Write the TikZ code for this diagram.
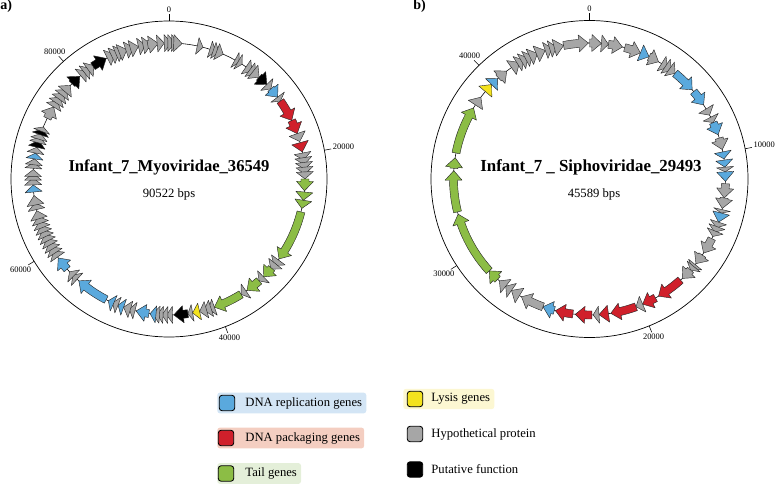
\documentclass[tikz,border=0pt]{standalone}
\usepackage{fontspec}
\setmainfont{Liberation Serif}

\definecolor{gy}{HTML}{A6A6A6}
\definecolor{bl}{HTML}{5AA9DD}
\definecolor{rd}{HTML}{D0202B}
\definecolor{gn}{HTML}{8CBD45}
\definecolor{yl}{HTML}{F4E31E}
\definecolor{bk}{HTML}{000000}
\definecolor{BgBlue}{HTML}{D3E5F5}
\definecolor{BgRed}{HTML}{F4CEC1}
\definecolor{BgGreen}{HTML}{E4EFD9}
\definecolor{BgYellow}{HTML}{FCF7D2}

% track radii (in px units of the picture)
\newcommand{\RTrack}{136}
\newcommand{\RBodyIn}{132}
\newcommand{\RBodyOut}{140}
\newcommand{\RHeadIn}{127.5}
\newcommand{\RHeadOut}{144.5}
\newcommand{\HeadLen}{4}

% gene from #1 to #2 degrees (clockwise from top), colour #3
\newcommand{\DrawGene}[3]{%
  \pgfmathsetmacro{\GA}{90-#1}%
  \pgfmathsetmacro{\GB}{90-#2}%
  \pgfmathsetmacro{\GL}{#2-#1}%
  \pgfmathsetmacro{\GH}{\GB+\HeadLen}%
  \ifdim\GL pt>\HeadLen pt
    \draw[GeneStyle, fill=#3] (\GA:\RBodyIn) arc[start angle=\GA, end angle=\GH, radius=\RBodyIn]
      -- (\GH:\RHeadIn) -- (\GB:\RTrack) -- (\GH:\RHeadOut) -- (\GH:\RBodyOut)
      arc[start angle=\GH, end angle=\GA, radius=\RBodyOut] -- cycle;
  \else
    \draw[GeneStyle, fill=#3] (\GA:\RHeadIn) -- (\GB:\RTrack) -- (\GA:\RHeadOut) -- cycle;
  \fi}

\begin{document}
\begin{tikzpicture}[x=0.025cm, y=0.025cm]
\useasboundingbox (0,0) rectangle (778,-485);

\tikzset{GeneStyle/.style = {draw=black!85, line width=0.3pt, line join=round} }
\tikzset{RingStyle/.style = {draw=black, line width=0.5pt} }
\tikzset{TickStyle/.style = {font=\fontsize{6}{7}\selectfont, inner sep=1pt} }
\tikzset{LegText/.style = {font=\fontsize{9}{11}\selectfont, anchor=west, inner xsep=3pt,
 minimum height=14pt, rounded corners=2pt} }
\tikzset{LegIcon/.style = {draw=black, line width=0.6pt, rounded corners=2pt,
 minimum size=11pt, inner sep=0pt} }

\coordinate (CA) at (169,-179);
\coordinate (CB) at (589.5,-179);

% panel a
\node[font=\fontsize{10}{12}\selectfont\bfseries, anchor=west, inner sep=0pt] (PanelA) at (0,-6) {a)};
\begin{scope}[shift={(CA)}]
\draw[RingStyle] (0,0) circle[radius=158];
\draw[line width=0.4pt] (0,0) circle[radius=\RTrack];
\foreach \t/\lab in {0/0, 79.5/20000, 159.1/40000, 238.6/60000, 318.1/80000} {
  \pgfmathsetmacro{\ta}{90-\t}
  \pgfmathsetmacro{\tb}{270-\t}
  \draw[line width=0.4pt] (\ta:158) -- (\ta:165) node[TickStyle, anchor=\tb] (TickA\lab) {\lab};
}
\foreach \s/\e/\c in {333/336.5/gy, 335/338.5/gy, 337/340.5/gy, 338.5/342/gy,
  341.5/345/gy, 343.5/347/gy, 347/350/gy, 349/352.5/gy, 351/355.5/gy, 355/358/gy,
  358/361/gy, 359.5/362.5/gy, 361/364/gy, 362/365.5/gy,
  12/14.5/gy, 17.5/20/gy, 19/21.5/gy, 20.5/23.5/gy, 29/31/gy, 30.5/32.5/gy,
  34.5/37.5/gy, 36.5/39.5/gy, 38/41.5/gy, 41.5/46/bk, 46/48.5/gy, 48.5/53/bl,
  53/55/gy, 55/64.5/rd, 64.5/70.5/rd, 70.5/74/gy, 74.5/78.5/rd,
  79/82/gy, 81/84/gy, 83/86/gy, 85/88/gy, 87/90/gy,
  90/95/gn, 95.5/99/gn, 99/102.5/gn, 104/126/gn, 126.5/129.5/gy, 128.5/131.5/gy,
  131/136/gn, 136/138.5/gy, 138.5/145/gn, 145.5/148/gy, 148/160.5/gn,
  160.5/163/gy, 162/165/gy, 164/167/gy, 167/170/yl, 170/172/gy, 172/178/bk,
  178.5/181/gy, 180.5/183/gy, 182.5/185/gy, 184/187/gy, 185.5/188/bl, 188.5/194/bl,
  194.5/197/gy, 196.5/199.5/gy, 199.5/202/bl, 202/204.5/gy, 204/206.5/bl,
  207.5/221.5/bl, 222.5/225/gy, 224.5/227/gy, 228.5/234.5/bl,
  235/238/gy, 237/240/gy, 239/242/gy, 241/244/gy, 243/246/gy, 245/248/gy,
  247/250/gy, 249/252/gy, 251/254/gy, 253/256.5/gy, 257/260/gy, 259/263/gy,
  264.5/267.5/bl, 267.5/270.5/gy, 269.5/272.5/gy, 271/274/gy, 274.5/277/gy,
  276/278.5/gy, 278.5/281/bl, 281/283.5/gy, 283.5/286.5/bk, 285.5/288/gy,
  287/289.5/gy, 289/291.5/bk, 290.5/292.5/gy,
  296.5/302/gy, 302/305/gy, 304/307/gy, 306/309/gy, 308/311/gy, 310/313.5/gy,
  314.5/319/bk, 319.5/322.5/gy, 321.5/324.5/gy, 323.5/326.5/gy, 326/332.5/bk} {
  \DrawGene{\s}{\e}{\c}
}
\end{scope}
\node[font=\fontsize{11.8}{14}\selectfont\bfseries] (TitleA) at (169,-167) {Infant\_7\_Myoviridae\_36549};
\node[font=\fontsize{9}{11}\selectfont] (SizeA) at (169,-194) {90522 bps};

% panel b
\node[font=\fontsize{10}{12}\selectfont\bfseries, anchor=west, inner sep=0pt] (PanelB) at (413,-6) {b)};
\begin{scope}[shift={(CB)}]
\draw[RingStyle] (0,0) circle[radius=158.5];
\draw[line width=0.4pt] (0,0) circle[radius=\RTrack];
\foreach \t/\lab in {0/0, 79/10000, 157.9/20000, 236.9/30000, 315.8/40000} {
  \pgfmathsetmacro{\ta}{90-\t}
  \pgfmathsetmacro{\tb}{270-\t}
  \draw[line width=0.4pt] (\ta:158.5) -- (\ta:165.5) node[TickStyle, anchor=\tb] (TickB\lab) {\lab};
}
\foreach \s/\e/\c in {349/359.5/gy, 0/5/gy, 5/8/gy, 8/14/gy, 15/22/gy, 22/26/bl,
  26/30.5/gy, 32/35/gy, 34/37/gy, 36/39/gy, 39/49/bl, 50/57/bl, 59/62/gy,
  63/65.5/gy, 65.5/71/bl, 72.5/77.5/gy, 78.5/81.5/bl, 82/85/bl, 85/87/gy,
  87/91/bl, 92/98/gy, 98/102.5/gy, 103/104.5/gy, 104.5/108.5/bl,
  108.5/111/gy, 110.5/113/gy, 112.5/115/gy, 116/123/gy, 124/128.5/gy,
  129/131/gy, 130/132/gy, 132/137/gy, 138/149.5/rd, 151/157/rd, 157/160/gy,
  160/171/rd, 172/176/rd, 176/178.5/gy, 179/186/rd, 187/194.5/rd, 195/200/bl,
  200/210/gy, 211/215/gy, 215/218/gy, 218/221.5/gy, 222.5/227.5/gn,
  227.5/255/gn, 256/273.5/gn, 274.5/279/gn, 281/301.5/gn, 303/307/gy,
  310/314/yl, 314/317.5/bl, 318/322.5/gy, 325/329/gy, 328/331/gy, 330/333/gy,
  332/335/gy, 334/337.5/gy, 337/341/gy, 341/344/gy, 343/346/gy, 345/349/gy} {
  \DrawGene{\s}{\e}{\c}
}
\end{scope}
\node[font=\fontsize{12}{14}\selectfont\bfseries] (TitleB) at (591,-167) {Infant\_7 \_ Siphoviridae\_29493};
\node[font=\fontsize{9}{11}\selectfont] (SizeB) at (594,-194) {45589 bps};

% legend
\node[LegText, fill=BgBlue] (LegRep) at (217,-403) {\hspace{17pt}DNA replication genes};
\node[LegText, fill=BgRed] (LegPack) at (217,-438) {\hspace{17pt}DNA packaging genes};
\node[LegText, fill=BgGreen] (LegTail) at (217,-473.5) {\hspace{17pt}Tail genes};
\node[LegText, fill=BgYellow] (LegLys) at (403,-399) {\hspace{17pt}Lysis genes};
\node[LegText] (LegHyp) at (403,-434) {\hspace{17pt}Hypothetical protein};
\node[LegText] (LegPut) at (403,-469.5) {\hspace{17pt}Putative function};

\node[LegIcon, fill=bl] (IconRep) at (227,-403) {};
\node[LegIcon, fill=rd] (IconPack) at (226,-438) {};
\node[LegIcon, fill=gn] (IconTail) at (226,-473.5) {};
\node[LegIcon, fill=yl] (IconLys) at (415,-399) {};
\node[LegIcon, fill=gy] (IconHyp) at (415,-434) {};
\node[LegIcon, fill=bk] (IconPut) at (415,-469.5) {};

\end{tikzpicture}
\end{document}
